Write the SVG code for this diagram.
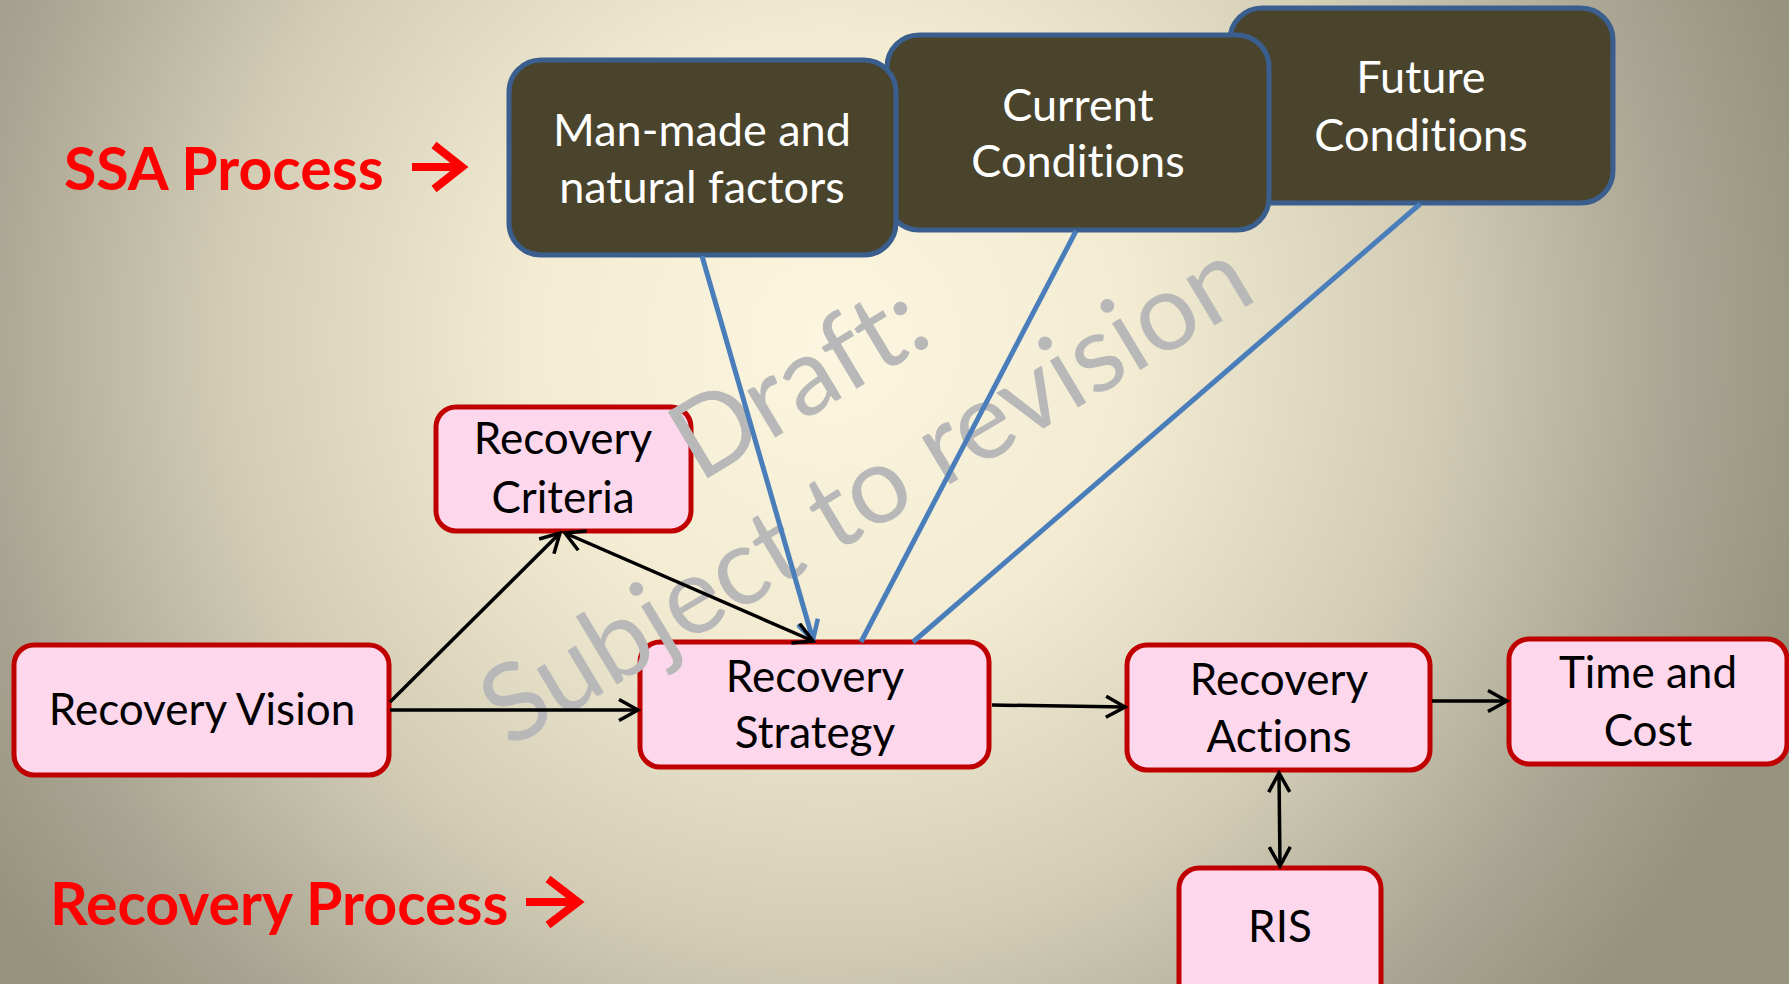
<svg xmlns="http://www.w3.org/2000/svg" width="1789" height="984" viewBox="0 0 1789 984">
  <defs>
    <radialGradient id="bg" gradientUnits="userSpaceOnUse" cx="830" cy="340" r="1000">
      <stop offset="0" stop-color="#FCF6E0"/>
      <stop offset="0.3" stop-color="#F3ECD3"/>
      <stop offset="0.6" stop-color="#D3CDB6"/>
      <stop offset="0.85" stop-color="#A9A592"/>
      <stop offset="1" stop-color="#97937F"/>
    </radialGradient>
    <marker id="arrowK" viewBox="0 0 24 24" refX="21" refY="12" markerWidth="24" markerHeight="24" markerUnits="userSpaceOnUse" orient="auto-start-reverse">
      <path d="M2,1.5 L21,12 L2,22.5" fill="none" stroke="#000" stroke-width="3.5" stroke-linejoin="miter"/>
    </marker>
    <marker id="arrowB" viewBox="0 0 24 24" refX="21" refY="12" markerWidth="24" markerHeight="24" markerUnits="userSpaceOnUse" orient="auto">
      <path d="M2,1.5 L21,12 L2,22.5" fill="none" stroke="#4A7EBB" stroke-width="4.5"/>
    </marker>
  </defs>
  <style>
    text { font-variant-ligatures: none; font-feature-settings: "liga" 0, "clig" 0, "dlig" 0, "calt" 0; }
    .dark rect { fill: #4A442D; stroke: #3A5F8F; stroke-width: 5; }
    .pink rect { fill: #FDD7EC; stroke: #C00000; stroke-width: 5; }
    .dark text { fill: #FFFFFF; font-family: Lato, "Liberation Sans", sans-serif; font-size: 45px; text-anchor: middle; }
    .pink text { fill: #000000; font-family: Lato, "Liberation Sans", sans-serif; font-size: 44px; text-anchor: middle; }
    .label { fill: #FF0000; font-family: Lato, "Liberation Sans", sans-serif; font-weight: bold; font-size: 59px; }
    .redarrow { fill: none; stroke: #FF0000; stroke-width: 8; stroke-linejoin: miter; }
    .blk { stroke: #000; stroke-width: 3.5; fill: none; }
    .blu { stroke: #4A7EBB; stroke-width: 5; fill: none; }
    .wm { fill: #B8B8B8; font-family: Lato, "Liberation Sans", sans-serif; font-size: 108px; text-anchor: middle; }
  </style>

  <!-- backdrop -->
  <rect x="0" y="0" width="1789" height="984" fill="url(#bg)"/>

  <!-- section labels -->
  <g id="label-ssa">
    <text class="label" x="64" y="190">SSA Process</text>
    <path class="redarrow" d="M412,167 H459 M434,145 L462,167 L434,189"/>
  </g>
  <g id="label-recovery">
    <text class="label" x="50" y="925">Recovery Process</text>
    <path class="redarrow" d="M526,902 H575 M548,879 L578,902 L548,925"/>
  </g>

  <!-- SSA inputs (back to front) -->
  <g id="future" class="dark">
    <rect x="1230" y="8" width="383" height="195" rx="32"/>
    <text x="1421" y="93">Future</text>
    <text x="1421" y="151">Conditions</text>
  </g>
  <g id="current" class="dark">
    <rect x="887" y="35" width="382" height="195" rx="32"/>
    <text x="1078" y="121">Current</text>
    <text x="1078" y="177">Conditions</text>
  </g>
  <g id="factors" class="dark">
    <rect x="509" y="60" width="387" height="195" rx="32"/>
    <text x="702" y="146">Man-made and</text>
    <text x="702" y="203">natural factors</text>
  </g>

  <!-- recovery process nodes -->
  <g id="criteria" class="pink">
    <rect x="436" y="407" width="255" height="124" rx="20"/>
    <text x="563" y="454">Recovery</text>
    <text x="563" y="513">Criteria</text>
  </g>
  <g id="vision" class="pink">
    <rect x="14" y="645" width="375" height="130" rx="20"/>
    <text x="202" y="725">Recovery Vision</text>
  </g>
  <g id="strategy" class="pink">
    <rect x="640" y="642" width="349" height="125" rx="20"/>
    <text x="815" y="692">Recovery</text>
    <text x="815" y="748">Strategy</text>
  </g>
  <g id="actions" class="pink">
    <rect x="1127" y="645" width="303" height="125" rx="20"/>
    <text x="1279" y="695">Recovery</text>
    <text x="1279" y="752">Actions</text>
  </g>
  <g id="timecost" class="pink">
    <rect x="1509" y="639" width="278" height="125" rx="20"/>
    <text x="1648" y="688">Time and</text>
    <text x="1648" y="746">Cost</text>
  </g>
  <g id="ris" class="pink">
    <rect x="1179" y="868" width="202" height="140" rx="20"/>
    <text x="1280" y="942">RIS</text>
  </g>

  <!-- draft watermark -->
  <g id="watermark" transform="translate(833,438) rotate(-31)">
    <text class="wm" x="0" y="-30">Draft:</text>
    <text class="wm" x="0" y="100">Subject to revision</text>
  </g>

  <!-- connectors -->
  <g id="connectors">
    <path class="blu" d="M702,256 L813,640" marker-end="url(#arrowB)"/>
    <path class="blu" d="M1076,231 L861,642"/>
    <path class="blu" d="M1420,204 L913,642"/>
    <path class="blk" d="M390,702 L560,533" marker-end="url(#arrowK)"/>
    <path class="blk" d="M390,710 L638,710" marker-end="url(#arrowK)"/>
    <path class="blk" d="M565,533 L813,641" marker-start="url(#arrowK)" marker-end="url(#arrowK)"/>
    <path class="blk" d="M992,705 L1125,707" marker-end="url(#arrowK)"/>
    <path class="blk" d="M1432,701 L1507,701" marker-end="url(#arrowK)"/>
    <path class="blk" d="M1279,773 L1280,866" marker-start="url(#arrowK)" marker-end="url(#arrowK)"/>
  </g>
</svg>
